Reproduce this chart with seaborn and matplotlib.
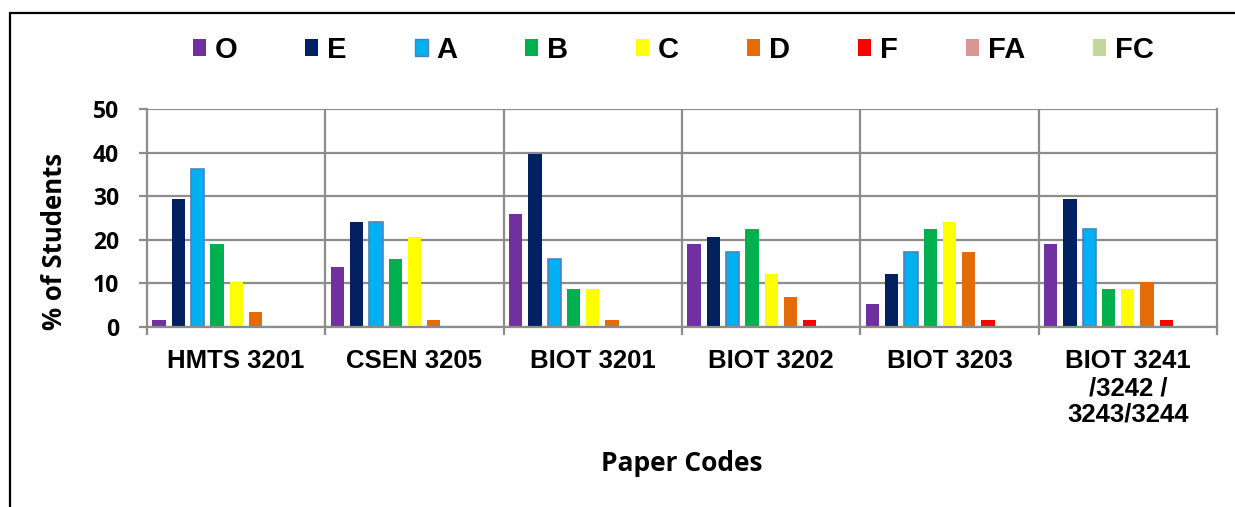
import matplotlib
matplotlib.use("Agg")
import matplotlib.pyplot as plt
import seaborn as sns
import pandas as pd
import numpy as np
from matplotlib.patches import Patch, Rectangle

categories = ["HMTS 3201", "CSEN 3205", "BIOT 3201", "BIOT 3202", "BIOT 3203",
              "BIOT 3241\n/3242 /\n3243/3244"]
grades = ["O", "E", "A", "B", "C", "D", "F", "FA", "FC"]

O_vals = [1.72, 13.79, 25.86, 18.97, 5.17, 18.97]
E_vals = [29.31, 24.14, 39.66, 20.69, 12.07, 29.31]
A_vals = [36.21, 24.14, 15.52, 17.24, 17.24, 22.41]
B_vals = [18.97, 15.52, 8.62, 22.41, 22.41, 8.62]
C_vals = [10.34, 20.69, 8.62, 12.07, 24.14, 8.62]
D_vals = [3.45, 1.72, 1.72, 6.90, 17.24, 10.34]
F_vals = [0, 0, 0, 1.72, 1.72, 1.72]
FA_vals = [0, 0, 0, 0, 0, 0]
FC_vals = [0, 0, 0, 0, 0, 0]

yticks = [0, 10, 20, 30, 40, 50]

colors = ["#7030a0", "#002060", "#00b0f0", "#00b050", "#ffff00",
          "#e36c09", "#ff0000", "#d99694", "#c3d69b"]

series = [O_vals, E_vals, A_vals, B_vals, C_vals, D_vals, F_vals, FA_vals, FC_vals]
rows = []
for g, vals in zip(grades, series):
    for c, v in zip(categories, vals):
        rows.append({"Paper": c, "Grade": g, "Value": v})
df = pd.DataFrame(rows)

sns.set_theme(style="white")
plt.rcParams["font.family"] = ["Liberation Sans", "DejaVu Sans"]
plt.rcParams["text.color"] = "black"
plt.rcParams["axes.labelcolor"] = "black"
plt.rcParams["xtick.labelcolor"] = "black"
plt.rcParams["ytick.labelcolor"] = "black"

fig = plt.figure(figsize=(12.35, 5.07), dpi=100)
W, H = 1235, 507
left, right, top, bottom = 147, 1217, 109, 327
ax = fig.add_axes([left / W, 1 - bottom / H, (right - left) / W, (bottom - top) / H])

sns.barplot(data=df, x="Paper", y="Value", hue="Grade", order=categories,
            hue_order=grades, palette=colors, saturation=1, width=0.975, gap=0.31,
            edgecolor="none", linewidth=0, legend=False, ax=ax)

for bar_container, g in zip(ax.containers, grades):
    if g == "A":
        for p in bar_container.patches:
            if p.get_height() > 0:
                p.set_edgecolor("#4f81bd")
                p.set_linewidth(1.2)

gcol = "#8c8c8c"
hum = "Open Sans"
ax.set_ylim(0, 50)
ax.set_xlim(-0.5, len(categories) - 0.5)
ax.set_yticks(yticks)
ax.set_yticklabels([str(t) for t in yticks], fontfamily=hum, fontweight="bold", fontsize=16.5,
                   color="black")
ax.yaxis.grid(True, color=gcol, linewidth=1.6)
ax.set_axisbelow(True)
for xb in np.arange(0.5, len(categories) - 0.5, 1.0):
    ax.axvline(xb, color=gcol, linewidth=1.6, zorder=0.5)

for s in ["left", "bottom", "right", "top"]:
    ax.spines[s].set_color(gcol)
    ax.spines[s].set_linewidth(1.6)
ax.spines["top"].set_visible(False)

ax.tick_params(axis="y", which="major", length=6, width=1.6, color=gcol, pad=14, left=True)
ax.set_xticks(range(len(categories)))
ax.set_xticklabels(categories, fontweight="bold", fontsize=18.5, linespacing=1.15,
                   multialignment="center", color="black")
ax.tick_params(axis="x", which="major", length=0, pad=16)
ax.set_xticks(np.arange(-0.5, len(categories), 1.0), minor=True)
ax.tick_params(axis="x", which="minor", length=6, width=1.6, color=gcol, bottom=True)

ax.set_ylabel("% of Students", fontfamily=hum, fontweight="bold", fontsize=18.5, va="center",
              color="black")
ax.yaxis.set_label_coords(-0.086, 0.394)
ax.set_xlabel("Paper Codes", fontfamily=hum, fontweight="bold", fontsize=19, va="center",
              color="black")
ax.xaxis.set_label_coords(0.5, -0.624)

handles = [Patch(facecolor=c, edgecolor=("#4f81bd" if g == "A" else "none")) for g, c in zip(grades, colors)]
fig.legend(handles, grades, loc="center", bbox_to_anchor=(0.545, 0.902), ncol=9,
           frameon=False, handlelength=0.45, handleheight=0.55, handletextpad=0.3,
           columnspacing=2.33, labelcolor="black",
           prop={"family": "Liberation Sans", "weight": "bold", "size": 21})

fig.patches.append(Rectangle((10 / W, -0.1), 1.2, 1 - 13 / H + 0.1, transform=fig.transFigure,
                             fill=False, edgecolor="black", linewidth=1.6))

fig.savefig("out.png", dpi=100)
